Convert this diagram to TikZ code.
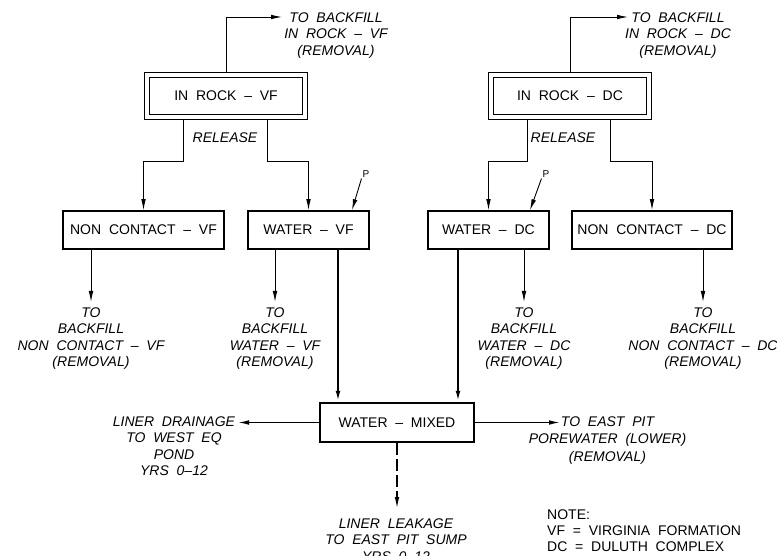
\documentclass[tikz,border=0pt]{standalone}
\usepackage{fontspec}
\setmainfont{Liberation Sans}[WordSpace=2]
\usetikzlibrary{arrows.meta,calc}
\tikzset{
  tip/.style={-{Latex[length=11pt,width=4.6pt]}},
  thinarr/.style={tip, line width=0.9pt},
  thickarr/.style={tip, line width=1.8pt},
  midarr/.style={tip, line width=1.2pt},
  dasharr/.style={tip, line width=1.1pt, dash pattern=on 12pt off 4pt},
  box/.style={draw, line width=1.7pt, minimum height=38pt, inner sep=0pt,
    font=\fontsize{14}{16.3}\selectfont},
  dbox/.style={draw, line width=1.1pt, double, double distance=3.6pt,
    minimum width=158pt, minimum height=42pt, inner sep=0pt, outer sep=3pt,
    font=\fontsize{14}{16.3}\selectfont},
  mixbox/.style={box, line width=2.2pt},
  lbl/.style={inner sep=0pt, align=center, anchor=north,
    font=\fontsize{14}{16.3}\selectfont\itshape},
  plbl/.style={inner sep=1pt, font=\fontsize{10}{12}\selectfont},
  note/.style={inner sep=0pt, align=left, anchor=north west,
    font=\fontsize{14}{16}\selectfont},
}
\begin{document}
\begin{tikzpicture}[x=1pt,y=-1pt]
\useasboundingbox (0,0) rectangle (777,556);

% boxes
\node[dbox] (invf) at (226,96) {IN ROCK – VF};
\node[dbox] (indc) at (570,96) {IN ROCK – DC};
\node[box, minimum width=161pt] (ncvf) at (143.5,230) {NON CONTACT – VF};
\node[box, minimum width=121pt] (wvf) at (308.5,230) {WATER – VF};
\node[box, minimum width=121pt] (wdc) at (488.5,230) {WATER – DC};
\node[box, minimum width=160pt] (ncdc) at (652,230) {NON CONTACT – DC};
\node[mixbox, minimum width=154pt, minimum height=39pt] (mix) at (397,422.5) {WATER – MIXED};

% labels
\node[lbl] (bvf) at (336,12.5) {TO BACKFILL\\IN ROCK – VF\\(REMOVAL)};
\node[lbl] (bdc) at (678,12.5) {TO BACKFILL\\IN ROCK – DC\\(REMOVAL)};
\node[lbl, anchor=center] (rvf) at (225,138) {RELEASE};
\node[lbl, anchor=center] (rdc) at (563,138) {RELEASE};
\node[lbl] (lncvf) at (91,307.5) {TO\\BACKFILL\\NON CONTACT – VF\\(REMOVAL)};
\node[lbl] (lwvf) at (275,307.5) {TO\\BACKFILL\\WATER – VF\\(REMOVAL)};
\node[lbl] (lwdc) at (524,307.5) {TO\\BACKFILL\\WATER – DC\\(REMOVAL)};
\node[lbl] (lncdc) at (703,307.5) {TO\\BACKFILL\\NON CONTACT – DC\\(REMOVAL)};
\node[lbl] (ldrain) at (174,416.5) {LINER DRAINAGE\\TO WEST EQ\\POND\\YRS 0–12};
\node[lbl, font=\fontsize{14}{17.5}\selectfont\itshape] (least) at (607.5,416.5) {TO EAST PIT\\POREWATER (LOWER)\\(REMOVAL)};
\node[lbl] (lleak) at (396,518.5) {LINER LEAKAGE\\TO EAST PIT SUMP\\YRS 0–12};
\node[note] (nt) at (547,509.5) {NOTE:\\VF = VIRGINIA FORMATION\\DC = DULUTH COMPLEX};
\node[plbl] (pvf) at (366,174) {P};
\node[plbl] (pdc) at (546,174) {P};

% free ends
\coordinate (avf) at (282,17);
\coordinate (adc) at (628,17);
\coordinate (tncvf) at (91,302);
\coordinate (twvf) at (275,302);
\coordinate (twdc) at (524,302);
\coordinate (tncdc) at (703,302);
\coordinate (tl) at (238,422.5);
\coordinate (tr) at (560,422.5);
\coordinate (tb) at (397,508);

% connectors
\draw[thinarr] (invf.north) -- (invf.north |- avf) -- (avf);
\draw[thinarr] (indc.north) -- (indc.north |- adc) -- (adc);
\draw[thinarr] ([xshift=-43pt]invf.south) -- ++(0,41) -| (ncvf.north);
\draw[thinarr] ([xshift=41pt]invf.south) -- ++(0,41) -| (wvf.north);
\draw[thinarr] ([xshift=-43pt]indc.south) -- ++(0,41) -| (wdc.north);
\draw[thinarr] ([xshift=40pt]indc.south) -- ++(0,41) -| (ncdc.north);
\draw[thinarr] (pvf.south west) -- ([xshift=43.5pt]wvf.north);
\draw[thinarr] (pdc.south west) -- ([xshift=41.5pt]wdc.north);
\draw[thinarr] (ncvf.south -| tncvf) -- (tncvf);
\draw[thinarr] (wvf.south -| twvf) -- (twvf);
\draw[thinarr] (wdc.south -| twdc) -- (twdc);
\draw[thinarr] (ncdc.south -| tncdc) -- (tncdc);
\draw[thickarr] ([xshift=29.5pt]wvf.south) -- ([xshift=29.5pt]wvf.south |- mix.north);
\draw[thickarr] ([xshift=-30.5pt]wdc.south) -- ([xshift=-30.5pt]wdc.south |- mix.north);
\draw[midarr] (mix.west) -- (tl);
\draw[midarr] (mix.east) -- (tr);
\draw[dasharr] (mix.south) -- (tb);
\end{tikzpicture}
\end{document}
